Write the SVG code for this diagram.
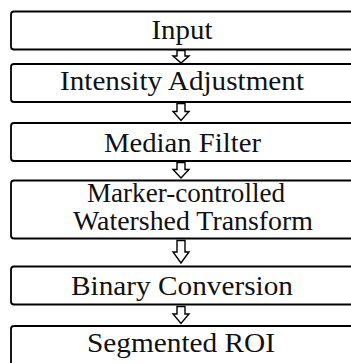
<svg xmlns="http://www.w3.org/2000/svg" width="351" height="363" viewBox="0 0 351 363">
<style>
.box{fill:#fff;stroke:#000;stroke-width:1.8}
.lbl{font-family:"Liberation Serif","Times New Roman",serif;font-size:28px;fill:#111;text-anchor:middle}
.arr{fill:#fff;stroke:#000;stroke-width:1.4;stroke-linejoin:miter}
</style>
<rect width="351" height="363" fill="#fff"/>
<g id="connectors">
<path class="arr" d="M177,50.5 H185 V56 H189 L181,63 L173,56 H177 Z"/>
<path class="arr" d="M177,103.5 H185 V111.5 H189 L181,120.5 L173,111.5 H177 Z"/>
<path class="arr" d="M177,162.5 H185 V169.5 H189 L181,178 L173,169.5 H177 Z"/>
<path class="arr" d="M177,240.5 H185 V252 H189 L181,263 L173,252 H177 Z"/>
<path class="arr" d="M177,306.5 H185 V314 H189 L181,323.5 L173,314 H177 Z"/>
</g>
<g id="n1"><rect class="box" x="11" y="11.5" width="350" height="38" rx="3"/><text class="lbl" x="182" y="38.5" textLength="61" lengthAdjust="spacingAndGlyphs">Input</text></g>
<g id="n2"><rect class="box" x="11" y="64" width="350" height="38" rx="3"/><text class="lbl" x="182" y="89.5" textLength="244" lengthAdjust="spacingAndGlyphs">Intensity Adjustment</text></g>
<g id="n3"><rect class="box" x="11" y="123" width="350" height="38" rx="3"/><text class="lbl" x="182.5" y="151.5" textLength="157" lengthAdjust="spacingAndGlyphs">Median Filter</text></g>
<g id="n4"><rect class="box" x="11" y="180.5" width="350" height="58" rx="3"/><text class="lbl" x="186" y="201.5" textLength="198" lengthAdjust="spacingAndGlyphs">Marker-controlled</text><text class="lbl" x="193" y="230" textLength="240" lengthAdjust="spacingAndGlyphs">Watershed Transform</text></g>
<g id="n5"><rect class="box" x="11" y="266.5" width="350" height="38" rx="3"/><text class="lbl" x="182" y="295" textLength="222" lengthAdjust="spacingAndGlyphs">Binary Conversion</text></g>
<g id="n6"><rect class="box" x="11" y="326" width="350" height="50" rx="3"/><text class="lbl" x="181" y="351.5" textLength="188" lengthAdjust="spacingAndGlyphs">Segmented ROI</text></g>
</svg>
